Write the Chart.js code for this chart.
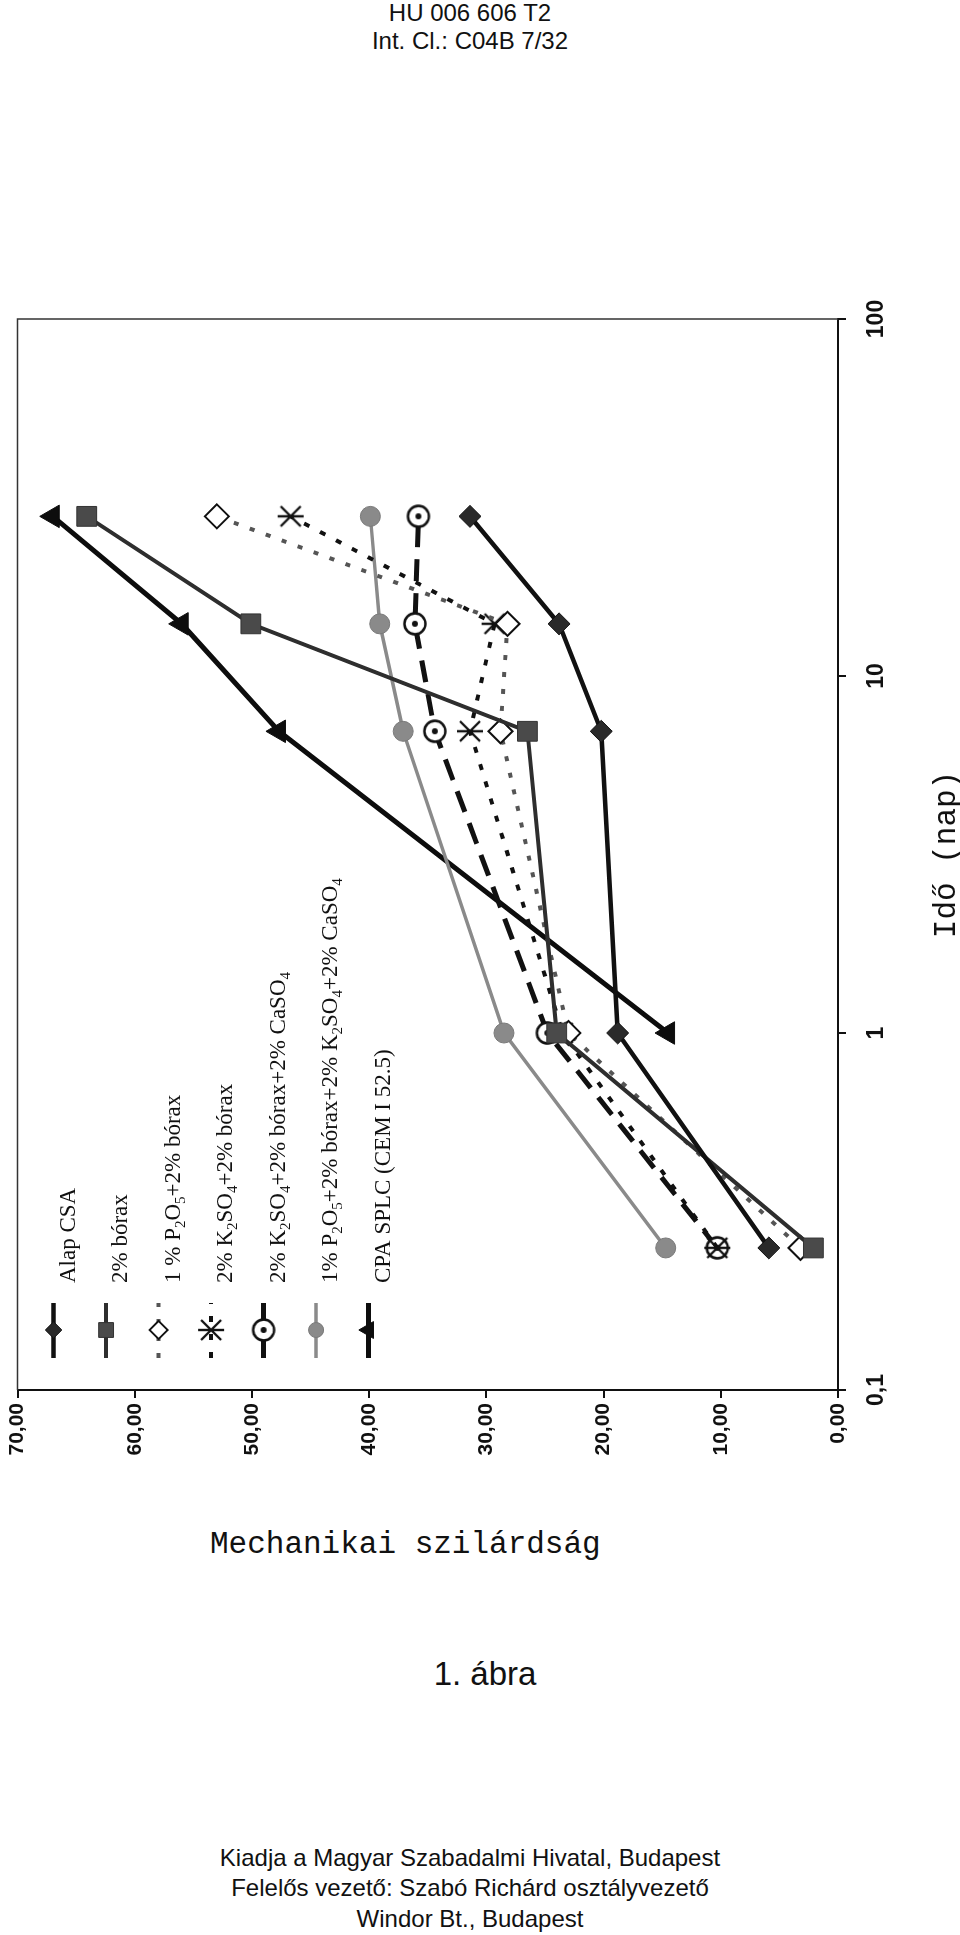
<!DOCTYPE html>
<html>
<head>
<meta charset="utf-8">
<script src="https://cdn.jsdelivr.net/npm/chart.js@4/dist/chart.umd.min.js"></script>
<style>
html,body{margin:0;padding:0;width:960px;height:1935px;overflow:hidden;background:#fff;}
.t{position:absolute;left:0;width:940px;text-align:center;font-family:"Liberation Sans",Arial,sans-serif;color:#111;white-space:nowrap;}
#wrap{position:absolute;left:0;top:280px;width:1190px;height:960px;transform-origin:0 0;transform:translate(0,1190px) rotate(-90deg);}
#mech{position:absolute;left:210px;top:1528px;font-family:"Liberation Mono","Courier New",monospace;font-size:31px;line-height:34px;color:#111;white-space:nowrap;}
</style>
</head>
<body>
<div class="t" style="top:0;font-size:24px;line-height:26px;">HU 006 606 T2</div>
<div class="t" style="top:28px;font-size:24px;line-height:26px;">Int. Cl.: C04B 7/32</div>
<div id="wrap"><canvas id="c" width="1190" height="960" style="width:1190px;height:960px;"></canvas></div>
<div id="mech">Mechanikai szilárdság</div>
<div class="t" style="top:1656px;width:970px;font-size:33px;line-height:36px;">1. ábra</div>
<div class="t" style="top:1843px;font-size:24px;line-height:30px;">Kiadja a Magyar Szabadalmi Hivatal, Budapest</div>
<div class="t" style="top:1873px;font-size:24px;line-height:30px;">Felelős vezető: Szabó Richárd osztályvezető</div>
<div class="t" style="top:1904px;font-size:24px;line-height:30px;">Windor Bt., Budapest</div>
<script>
// ---- data ----
const times = [0.25, 1, 7, 14, 28];               // Idő (nap)
const timeTicks = [0.1, 1, 10, 100];
const strengthTicks = [0, 10, 20, 30, 40, 50, 60, 70];
const seriesNames = [
  "Alap CSA",
  "2% bórax",
  "1 % P₂O₅+2% bórax",
  "2% K₂SO₄+2% bórax",
  "2% K₂SO₄+2% bórax+2% CaSO₄",
  "1% P₂O₅+2% bórax+2% K₂SO₄+2% CaSO₄",
  "CPA SPLC (CEM I 52.5)"
];
const alapCSA        = [5.9, 18.8, 20.2, 23.8, 31.4];
const borax2         = [2.1, 24.0, 26.5, 50.1, 64.1];
const p2o5Borax      = [3.2, 23.0, 28.8, 28.2, 53.0];
const k2so4Borax     = [10.3, 23.5, 31.4, 29.3, 46.7];
const k2so4BoraxCa   = [10.3, 24.8, 34.4, 36.1, 35.8];
const p2o5BoraxK2Ca  = [14.7, 28.5, 37.1, 39.1, 39.9];
const cpaSplc        = [null, 14.5, 47.7, 56.0, 67.0];

function pts(vals){ return times.map((t,i)=>({x:t,y:vals[i]})).filter(p=>p.y!==null); }

// custom marker images
function makeCircleDot(){
  const c=document.createElement('canvas'); c.width=28; c.height=28;
  const g=c.getContext('2d');
  g.fillStyle='#fff'; g.strokeStyle='#111'; g.lineWidth=2.6;
  g.beginPath(); g.arc(14,14,10.5,0,Math.PI*2); g.fill(); g.stroke();
  g.fillStyle='#111'; g.beginPath(); g.arc(14,14,3,0,Math.PI*2); g.fill();
  return c;
}
function makeAsterisk(){
  const c=document.createElement('canvas'); c.width=30; c.height=30;
  const g=c.getContext('2d');
  g.strokeStyle='#111'; g.lineWidth=2.4; g.lineCap='butt';
  g.beginPath();
  g.moveTo(5,5); g.lineTo(25,25);
  g.moveTo(25,5); g.lineTo(5,25);
  g.moveTo(15,2); g.lineTo(15,28);
  g.stroke();
  return c;
}
const circleDot = makeCircleDot();
const asterisk = makeAsterisk();

const datasets = [
  {label:seriesNames[0], data:pts(alapCSA), borderColor:'#111', borderWidth:4.5, pointStyle:'rectRot', pointRadius:11, pointBackgroundColor:'#2a2a2a', pointBorderColor:'#111', pointBorderWidth:1},
  {label:seriesNames[1], data:pts(borax2), borderColor:'#2e2e2e', borderWidth:4, pointStyle:'rect', pointRadius:14, pointBackgroundColor:'#4a4a4a', pointBorderColor:'#333', pointBorderWidth:1},
  {label:seriesNames[2], data:pts(p2o5Borax), borderColor:'#555', borderWidth:4, borderDash:[5,12], pointStyle:'rectRot', pointRadius:12, pointBackgroundColor:'#fff', pointBorderColor:'#111', pointBorderWidth:2},
  {label:seriesNames[3], data:pts(k2so4Borax), borderColor:'#111', borderWidth:4, borderDash:[6,12], pointStyle:asterisk, pointRadius:12, pointBackgroundColor:'#111', pointBorderColor:'#111', pointBorderWidth:1},
  {label:seriesNames[4], data:pts(k2so4BoraxCa), borderColor:'#111', borderWidth:5, borderDash:[22,12], pointStyle:circleDot, pointRadius:12, pointBackgroundColor:'#fff', pointBorderColor:'#111', pointBorderWidth:1},
  {label:seriesNames[5], data:pts(p2o5BoraxK2Ca), borderColor:'#8a8a8a', borderWidth:3.5, pointStyle:'circle', pointRadius:10, pointBackgroundColor:'#8a8a8a', pointBorderColor:'#7a7a7a', pointBorderWidth:1},
  {label:seriesNames[6], data:pts(cpaSplc), borderColor:'#0d0d0d', borderWidth:5, pointStyle:'triangle', pointRadius:13, pointBackgroundColor:'#0d0d0d', pointBorderColor:'#0d0d0d', pointBorderWidth:1}
];
datasets.forEach(d=>{ d.tension=0; d.fill=false; d.pointHoverRadius=d.pointRadius; });

const SUB = {'₀':'0','₁':'1','₂':'2','₃':'3','₄':'4','₅':'5','₆':'6','₇':'7','₈':'8','₉':'9'};
function drawRich(ctx, text, x, y){
  const runs=[]; let cur=null;
  for(const ch of text){
    const sub = SUB[ch]!==undefined;
    const c = sub ? SUB[ch] : ch;
    if(!cur || cur.sub!==sub){ cur={sub, s:''}; runs.push(cur); }
    cur.s += c;
  }
  ctx.textAlign='left'; ctx.textBaseline='alphabetic'; ctx.fillStyle='#111';
  runs.forEach(r=>{
    ctx.font = r.sub ? '15px "Liberation Serif", "Times New Roman", serif' : '23px "Liberation Serif", "Times New Roman", serif';
    ctx.fillText(r.s, x, r.sub ? y+5 : y);
    x += ctx.measureText(r.s).width;
  });
}

const frameLegend = {
  id:'frameLegend',
  afterDraw(chart){
    const {ctx, chartArea:ca} = chart;
    ctx.save();
    ctx.setLineDash([]);
    ctx.strokeStyle='#333'; ctx.lineWidth=1.5;
    ctx.beginPath();
    ctx.moveTo(ca.left, ca.top); ctx.lineTo(ca.right, ca.top); ctx.lineTo(ca.right, ca.bottom);
    ctx.stroke();
    chart.data.datasets.forEach((ds,i)=>{
      const yL = ca.top + 36 + i*52.5;
      const x0 = ca.left + 32, x1 = ca.left + 87, xm = ca.left + 60;
      ctx.setLineDash(ds.borderDash || []);
      ctx.strokeStyle = ds.borderColor; ctx.lineWidth = ds.borderWidth;
      ctx.beginPath(); ctx.moveTo(x0,yL); ctx.lineTo(x1,yL); ctx.stroke();
      ctx.setLineDash([]);
      ctx.fillStyle = ds.pointBackgroundColor; ctx.strokeStyle = ds.pointBorderColor; ctx.lineWidth = ds.pointBorderWidth;
      Chart.helpers.drawPoint(ctx, {pointStyle:ds.pointStyle, radius:ds.pointRadius*0.75, rotation:0, borderWidth:ds.pointBorderWidth}, xm, yL);
      drawRich(ctx, seriesNames[i], ca.left + 107, yL + 21);
    });
    ctx.restore();
  }
};

new Chart(document.getElementById('c'), {
  type:'line',
  data:{datasets},
  options:{
    responsive:false, animation:false, devicePixelRatio:1,
    layout:{padding:{top:12,right:39,left:0,bottom:0}},
    plugins:{legend:{display:false}, tooltip:{enabled:false}},
    scales:{
      x:{
        type:'logarithmic', position:'bottom', min:timeTicks[0], max:timeTicks[timeTicks.length-1],
        afterBuildTicks:(s)=>{ s.ticks = timeTicks.map(v=>({value:v})); },
        afterFit:(s)=>{ s.height = 122; },
        ticks:{autoSkip:false, maxRotation:0, padding:17, color:'#111',
          font:{family:'"Liberation Sans Narrow","Liberation Sans",Arial,sans-serif', size:23, weight:'bold'},
          callback:(v)=>String(v).replace('.',',')},
        grid:{drawOnChartArea:false, drawTicks:true, tickLength:8, color:'#111', lineWidth:2},
        border:{display:true, color:'#111', width:2},
        title:{display:true, text:'Idő (nap)', color:'#111', padding:0,
          font:{family:'"Liberation Mono","Courier New",monospace', size:31, lineHeight:0.85}}
      },
      y:{
        type:'linear', min:strengthTicks[0], max:strengthTicks[strengthTicks.length-1],
        afterBuildTicks:(s)=>{ s.ticks = strengthTicks.map(v=>({value:v})); },
        afterFit:(s)=>{ s.width = 80; },
        ticks:{padding:5, color:'#111',
          font:{family:'"Liberation Sans",Arial,sans-serif', size:21, weight:'bold'},
          callback:(v)=>Number(v).toFixed(2).replace('.',',')},
        grid:{drawOnChartArea:false, drawTicks:true, tickLength:8, color:'#111', lineWidth:2},
        border:{display:true, color:'#111', width:2}
      }
    }
  },
  plugins:[frameLegend]
});
</script>
</body>
</html>
